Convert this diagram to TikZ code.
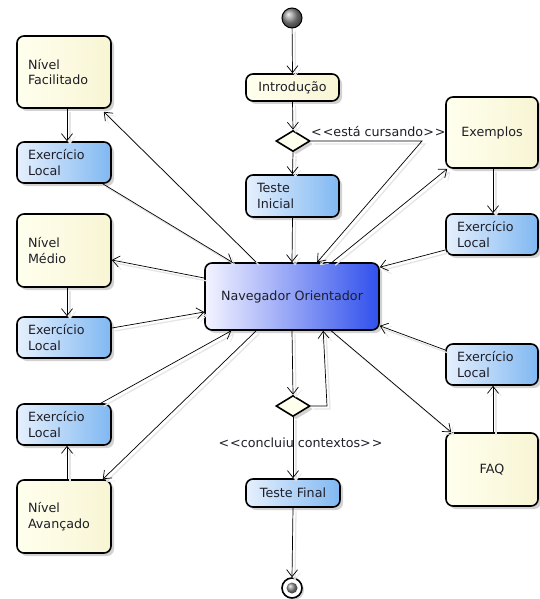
\documentclass[tikz,border=0pt]{standalone}
\usepackage{fontspec}
\setmainfont{DejaVu Sans}
\usetikzlibrary{arrows.meta,shapes.geometric,shadows,calc}
\definecolor{ylA}{RGB}{255,255,238}
\definecolor{ylB}{RGB}{248,245,212}
\definecolor{blA}{RGB}{230,240,253}
\definecolor{blB}{RGB}{128,184,242}
\definecolor{nvA}{RGB}{244,244,255}
\definecolor{nvB}{RGB}{48,80,236}
\definecolor{txt}{RGB}{30,30,40}
\begin{document}
\begin{tikzpicture}[x=1pt,y=-1pt,
  every node/.style={font=\fontsize{12.7}{15.5}\selectfont, text=txt},
  basebox/.style={draw=black, line width=1.6pt, rounded corners=7pt, inner xsep=11pt, inner ysep=0pt,
    drop shadow={shadow xshift=3pt, shadow yshift=-3pt, opacity=0.25, fill=black!70}},
  ybox/.style={basebox, left color=ylA, right color=ylB},
  bbox/.style={basebox, left color=blA, right color=blB},
  nbox/.style={basebox, left color=nvA, right color=nvB},
  dia/.style={shape=diamond, draw=black, line width=1.6pt, fill=ylA, minimum width=34pt, minimum height=21pt, inner sep=0pt,
    drop shadow={shadow xshift=3pt, shadow yshift=-3pt, opacity=0.25, fill=black!70}},
  conn/.style={draw=black, line width=0.7pt, -{Straight Barb[length=7pt,width=11pt,line width=0.7pt]},
    preaction={draw=black!10, line width=1.3pt, transform canvas={shift={(3pt,-3pt)}}}},
  lbl/.style={inner sep=0pt}
]
\useasboundingbox (0,0) rectangle (539,599);

% start / end
\node[circle, draw=black, line width=1pt, minimum size=20pt, inner sep=0pt, shading=ball, ball color=gray!85] (start) at (292,18) {};
\node[circle, draw=black, line width=1.6pt, minimum size=20pt, inner sep=0pt, fill=white,
  drop shadow={shadow xshift=2pt, shadow yshift=-2pt, opacity=0.25, fill=black!70}] (end) at (292,588) {};
\node[circle, minimum size=11pt, inner sep=0pt, shading=ball, ball color=gray!85] (endin) at (292,588) {};

% centre column
\node[ybox, minimum width=93pt, minimum height=27pt] (intro) at (292.5,87.5) {Introdução};
\node[dia] (d1) at (293,141) {};
\node[bbox, minimum height=42pt, text width=71pt, align=left] (ti) at (292.5,196) {Teste\\Inicial};
\node[nbox, minimum width=174pt, minimum height=67pt] (nav) at (292,296.5) {Navegador Orientador};
\node[dia] (d2) at (293,406) {};
\node[bbox, minimum width=94pt, minimum height=28pt] (tf) at (293,493) {Teste Final};

% left column
\node[ybox, minimum height=72pt, text width=72pt, align=left] (nf) at (64,72) {Nível\\Facilitado};
\node[bbox, minimum height=41pt, text width=72pt, align=left] (el1) at (64,162.5) {Exercício\\Local};
\node[ybox, minimum height=73pt, text width=72pt, align=left] (nm) at (64,250.5) {Nível\\Médio};
\node[bbox, minimum height=41pt, text width=72pt, align=left] (el2) at (64,337.5) {Exercício\\Local};
\node[bbox, minimum height=41pt, text width=72pt, align=left] (el3) at (64,424.5) {Exercício\\Local};
\node[ybox, minimum height=73pt, text width=72pt, align=left] (na) at (64,516.5) {Nível\\Avançado};

% right column
\node[ybox, minimum width=92pt, minimum height=71pt] (ex) at (492,132.5) {Exemplos};
\node[bbox, minimum height=41pt, text width=70pt, align=left] (er1) at (492,234.5) {Exercício\\Local};
\node[bbox, minimum height=41pt, text width=70pt, align=left] (er2) at (492,364.5) {Exercício\\Local};
\node[ybox, minimum width=92pt, minimum height=73pt] (faq) at (492,469.5) {FAQ};

% labels
\node[lbl, anchor=west] (l1) at (311,132) {<\kern1pt<está cursando>\kern1pt>};
\node[lbl] (l2) at (300.5,443) {<\kern1pt<concluiu contextos>\kern1pt>};

\coordinate (c1) at (422,141);
\coordinate (c2) at (327,406);

% centre connectors
\draw[conn] (start) -- (intro.north);
\draw[conn] (intro.south) -- (d1.north);
\draw[conn] (d1.south) -- (ti.north);
\draw[conn] (ti.south) -- (nav.north);
\draw[conn] (d1.east) -- (c1) -- ($(nav.north west)+(113,0)$);
\draw[conn] ($(nav.north west)+(128,0)$) -- ($(ex.south west)+(2,0)$);
\draw[conn] (nav.south) -- (d2.north);
\draw[conn] (d2.east) -- (c2) -- ($(nav.south west)+(119,0)$);
\draw[conn] (d2.south) -- (tf.north);
\draw[conn] (tf.south) -- (end.north);

% right connectors
\draw[conn] ($(ex.south)+(1,0)$) -- ($(er1.north)+(1,0)$);
\draw[conn] ($(er1.west)+(0,15.5)$) -- ($(nav.north east)+(0,5)$);
\draw[conn] ($(faq.north)+(1,0)$) -- ($(er2.south)+(1,0)$);
\draw[conn] ($(er2.west)+(0,-14.5)$) -- ($(nav.south east)+(0,-5)$);
\draw[conn] ($(nav.south west)+(127,0)$) -- ($(faq.north west)+(6,0)$);

% left connectors
\draw[conn] ($(nav.north west)+(52,0)$) -- ($(nf.south east)+(-8,3)$);
\draw[conn] ($(nf.south)+(3,0)$) -- ($(el1.north)+(3,0)$);
\draw[conn] ($(el1.south east)+(-9,0)$) -- ($(nav.north west)+(28,0)$);
\draw[conn] ($(nav.west)+(0,-18.5)$) -- ($(nm.east)+(0,9.5)$);
\draw[conn] ($(nm.south)+(3,0)$) -- ($(el2.north)+(3,0)$);
\draw[conn] ($(el2.east)+(0,-9.5)$) -- ($(nav.west)+(0,15.5)$);
\draw[conn] ($(el3.north east)+(-11,0)$) -- ($(nav.south west)+(27,0)$);
\draw[conn] ($(nav.south west)+(52,0)$) -- ($(na.north east)+(-9,0)$);
\draw[conn] ($(na.north)+(3,0)$) -- ($(el3.south)+(3,0)$);
\end{tikzpicture}
\end{document}
